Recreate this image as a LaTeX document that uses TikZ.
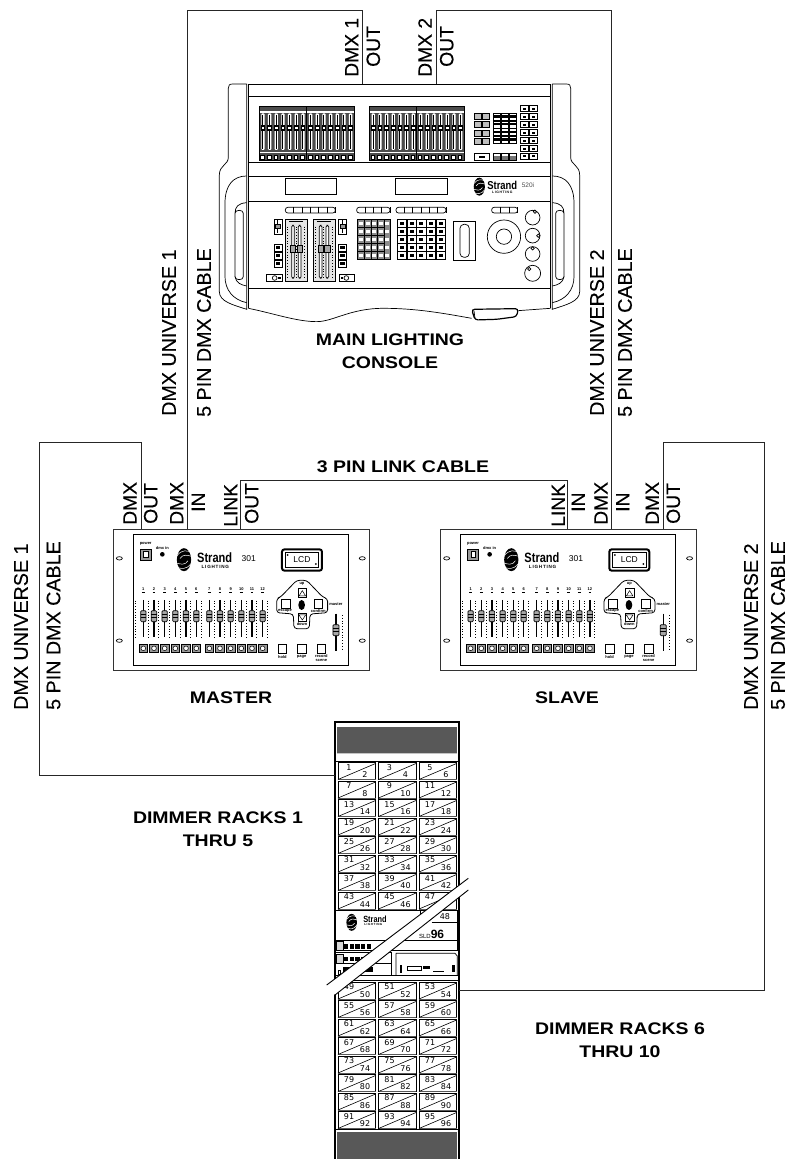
\documentclass[tikz,border=0pt]{standalone}
\usepackage{fontspec}
\setmainfont{Liberation Sans}
\newfontfamily\widefont[FakeStretch=1.16]{Liberation Sans}
\newfontfamily\cablefont[FakeBold=0.25]{Liberation Sans}
\newfontfamily\numfont{DejaVu Sans}
\usetikzlibrary{calc,patterns.meta}
\tikzset{
  cable/.style={line width=0.9pt, black!85},
  vlabel/.style={rotate=90, anchor=west, inner sep=0pt, font=\cablefont\fontsize{19.3}{20}\selectfont},
  longlabel/.style={vlabel, font=\cablefont\fontsize{19.7}{20}\selectfont},
  hlabel/.style={align=center, inner sep=0pt, font=\widefont\bfseries\fontsize{16.8}{22.5}\selectfont},
  dimnum/.style={inner sep=0pt, font=\numfont\fontsize{8}{8}\selectfont},
  tinytext/.style={inner sep=0pt, align=center, font=\bfseries\fontsize{4}{4.4}\selectfont},
  logotext/.style={inner sep=0pt, xscale=0.82, font=\bfseries\fontsize{#1}{#1}\selectfont},
  spaced/.style={inner sep=0pt, font=\bfseries\fontsize{#1}{#1}\selectfont},
  deskbox/.style={draw=black!80, line width=0.8pt, minimum width=256pt, minimum height=141pt, inner sep=0pt},
  keycap/.style={draw=black, line width=0.5pt, fill=white},
  darkkey/.style={draw=black, line width=0.5pt, fill=black!45},
  dotcol/.style={line width=1pt, dash pattern=on 0.8pt off 2pt},
  grille/.style={fill=black!55, postaction={pattern={Dots[distance=2pt,radius=0.65pt]}}},
  line/.style={line width=0.7pt}
}
% swirl of the maker's mark: x, y, unit
\newcommand{\strandswirl}[3]{%
  \begin{scope}[shift={(#1,#2)},x=#3pt,y=-#3pt]
    \fill (0,0) ellipse (0.62 and 1);
    \draw[white, line width=0.5pt] (-0.6,-0.35) .. controls (-0.2,-0.9) and (0.3,-0.8) .. (0.6,-0.65);
    \draw[white, line width=0.5pt] (-0.35,-0.1) .. controls (-0.1,-0.5) and (0.3,-0.4) .. (0.62,-0.3);
    \draw[white, line width=0.5pt] (0.6,0.35) .. controls (0.2,0.9) and (-0.3,0.8) .. (-0.6,0.65);
    \draw[white, line width=0.5pt] (0.35,0.1) .. controls (0.1,0.5) and (-0.3,0.4) .. (-0.62,0.3);
  \end{scope}}
% wing and handle of the console
\newcommand{\consolewing}[1]{%
  \begin{scope}[shift={(#1,70)},x=\wingx,y=-0.3333pt]
    \draw[line] (110,42) -- (68,42) .. controls (58,42) and (55,46) .. (55,55) -- (55,262) .. controls (55,285) and (28,285) .. (28,315) -- (28,665) .. controls (28,695) and (70,705) .. (110,718) -- (110,42);
    \draw[line] (110,318) .. controls (70,318) and (45,345) .. (45,400) -- (45,620) .. controls (45,660) and (70,690) .. (110,698);
    \draw[line] (110,398) .. controls (85,400) and (75,410) .. (75,430) -- (75,620) .. controls (75,632) and (100,632) .. (100,620) -- (100,430) .. controls (100,418) and (75,418) .. (75,430);
    \draw[line] (75,620) .. controls (78,640) and (95,645) .. (110,648);
  \end{scope}}
% one 301 desk
\newcommand{\drawdesk}[2]{%
  \begin{scope}[shift={(#1,520)},x=0.3333pt,y=-0.3333pt]
    \draw[line width=0.8pt] (100,44) rectangle (745,435);
    \foreach \hx/\hy in {58/115,58/362,787/115,787/362}
      \draw[line width=0.7pt] (\hx,\hy) ellipse (9 and 5);
    % power and lamp
    \node[tinytext] (#2-power) at (137,70) {power};
    \draw[line width=1pt, fill=black!40] (121,89) rectangle (154,120);
    \draw[fill=white, line width=0.5pt] (131,95) rectangle (144,113);
    \node[tinytext] (#2-dmxin) at (187,85) {dmx in};
    \fill (187,103) circle (7);
    % maker
    \strandswirl{252}{119}{11.5}
    \node[logotext=13.5] (#2-strand) at (344,113) {Strand};
    \node[spaced=4.6] (#2-lighting) at (346,140) {L\,I\,G\,H\,T\,I\,N\,G};
    \node[inner sep=0pt, font=\fontsize{8.5}{9}\selectfont] (#2-model) at (446,116) {301};
    % LCD
    \draw[line width=2pt, rounded corners=2.5pt] (546,88) rectangle (666,152);
    \draw[line width=0.7pt] (556,98) rectangle (656,142);
    \node[inner sep=0pt, font=\fontsize{8.5}{9}\selectfont] (#2-lcd) at (606,120) {LCD};
    \fill (563,105) circle (3); \fill (648,132) circle (3);
    % scene faders
    \foreach \fx [count=\n] in {130,162,194,226,258,289,328,360,392,424,456,488} {
      \draw[line width=1.2pt] (\fx,240) -- (\fx,352);
      \draw[dotcol] (\fx+15,242) -- (\fx+15,352);
      \draw[fill=black!35, line width=0.7pt, rounded corners=1pt] (\fx-8,272) rectangle (\fx+8,305);
      \draw[line width=0.5pt] (\fx-8,284) -- (\fx+8,284) (\fx-8,293) -- (\fx+8,293);
      \node[tinytext] (#2-num\n) at (\fx,206) {\n};
      \draw[line width=0.5pt] (\fx-4,218) -- (\fx+4,218);
      \draw[fill=black!40, line width=0.5pt] (\fx-13,372) rectangle (\fx+13,398);
      \draw[fill=white, line width=0.5pt] (\fx,385) circle (7);
    }
    \draw[dotcol] (106,242) -- (106,352);
    % cross pad
    \draw[line width=0.8pt, rounded corners=3pt] (590,181) -- (620,181) -- (668,231) -- (683,236) -- (683,278) -- (630,282) -- (628,326) -- (582,326) -- (580,282) -- (530,278) -- (530,236) -- (542,231) -- cycle;
    \draw[keycap] (594,206) rectangle (620,232);
    \draw[line width=0.5pt] (597,228) -- (607,212) -- (617,228) -- cycle;
    \draw[keycap] (594,280) rectangle (620,304);
    \draw[line width=0.5pt] (597,285) -- (607,300) -- (617,285) -- cycle;
    \draw[keycap] (543,238) rectangle (570,265);
    \draw[keycap] (643,238) rectangle (668,265);
    \fill (605,255) ellipse (10 and 15);
    \node[tinytext] (#2-up) at (606,192) {up};
    \node[tinytext] (#2-down) at (606,313) {down};
    \node[tinytext] (#2-escape) at (555,272) {escape};
    \node[tinytext] (#2-confirm) at (655,272) {confirm};
    % master fader
    \node[tinytext] (#2-masterfade) at (708,253) {master};
    \draw[line width=1.2pt] (708,281) -- (708,392);
    \draw[dotcol] (727,285) -- (727,390);
    \draw[fill=black!35, line width=0.7pt, rounded corners=1pt] (699,314) rectangle (717,347);
    \draw[line width=0.5pt] (699,326) -- (717,326) (699,335) -- (717,335);
    % bottom keys
    \draw[keycap] (535,374) rectangle (560,400);
    \draw[keycap] (593,374) rectangle (618,400);
    \draw[keycap] (652,374) rectangle (677,400);
    \node[tinytext] (#2-hold) at (547,410) {hold};
    \node[tinytext] (#2-page) at (605,410) {page};
    \node[tinytext] (#2-record) at (664,415) {record\\scene};
  \end{scope}}
\begin{document}
\begin{tikzpicture}[x=1pt,y=-1pt]
  \useasboundingbox (0,0) rectangle (787,1159);
  % Main lighting console
  \def\wingx{0.3333pt}
  \consolewing{210}
  \def\wingx{-0.3333pt}
  \consolewing{589}
  \begin{scope}[shift={(210,70)},x=0.3333pt,y=-0.3333pt]
    \draw[line] (115,715) -- (115,42) -- (1022,42) -- (1022,715);
    \foreach \ly in {80,278,318,395,655}
      \draw[line] (115,\ly) -- (1022,\ly);
    \draw[line] (225,325) rectangle (378,373);
    \draw[line] (555,325) rectangle (711,373);
    % fader wings
    \foreach \bx in {147,290,478,620} {
      \draw[line, fill=black!70] (\bx,110) rectangle (\bx+143,270);
      \fill[white] (\bx+2,122) rectangle (\bx+141,128);
      \fill[white] (\bx+2,246) rectangle (\bx+141,250);
      \foreach \f in {0,...,6} {
        \fill[white, rounded corners=1pt] (\bx+7+20*\f,130) rectangle (\bx+17+20*\f,240);
        \draw[line width=1pt] (\bx+12+20*\f,135) -- (\bx+12+20*\f,236);
        \fill (\bx+5+20*\f,165) rectangle (\bx+19+20*\f,182);
        \fill[white] (\bx+8+20*\f,171) rectangle (\bx+16+20*\f,176);
        \draw[keycap, line width=0.3pt] (\bx+4+20*\f,254) rectangle (\bx+15+20*\f,266);
      }
    }
    % palette keys
    \foreach \kx in {792,818} \foreach \ky in {130,155,180,205}
      \draw[darkkey, fill=black!25] (\kx,\ky) rectangle (\kx+21,\ky+18);
    \foreach \kx in {850,874,898} \foreach \ky in {130,153,176,199} {
      \draw[keycap] (\kx,\ky) rectangle (\kx+22,\ky+21);
      \fill (\kx+3,\ky+6) rectangle (\kx+19,\ky+13);
    }
    \draw[keycap] (792,250) rectangle (838,271);
    \fill (806,258) rectangle (826,263);
    \foreach \kx in {850,874,898} {
      \draw[darkkey, fill=black!55] (\kx,250) rectangle (\kx+22,271);
      \fill[white] (\kx+3,252) rectangle (\kx+19,257);
    }
    \foreach \kx in {932,958} \foreach \ky in {107,131,155,179,203,227,250} {
      \draw[keycap] (\kx,\ky) rectangle (\kx+24,\ky+18);
      \fill (\kx+7,\ky+6) rectangle (\kx+17,\ky+12);
    }
    % maker
    \strandswirl{808}{350}{9}
    \node[logotext=11.5] (consolestrand) at (877,346) {Strand};
    \node[spaced=3.4] (consolelighting) at (877,366) {L\,I\,G\,H\,T\,I\,N\,G};
    \node[inner sep=0pt, text=black!70, font=\fontsize{6.5}{7}\selectfont] (consolemodel) at (954,347) {520i};
    % pill key rows
    \foreach \px/\pw/\pk in {226/150/6,440/100/4,558/150/6,845/78/3} {
      \draw[line, rounded corners=2.5pt] (\px,412) rectangle (\px+\pw,429);
      \foreach \s in {1,...,\pk}
        \draw[line] ({\px+\s*\pw/\pk},412) -- ({\px+\s*\pw/\pk},429);
    }
    % playback faders
    \foreach \bx in {226,309} {
      \draw[line, fill=black!10] (\bx,447) rectangle (\bx+66,635);
      \draw[line width=1pt] (\bx+12,455) -- (\bx+54,455);
      \foreach \sx in {23,43} {
        \draw[line, fill=white, rounded corners=1.5pt] (\bx+\sx-4,466) rectangle (\bx+\sx+4,625);
        \draw[fill=black!35, line width=0.6pt] (\bx+\sx-8,525) rectangle (\bx+\sx+8,547);
      }
      \foreach \dx in {7,33,59} \draw[dotcol] (\bx+\dx,470) -- (\bx+\dx,622);
    }
    \foreach \sx in {192,385} {
      \draw[line] (\sx,447) rectangle (\sx+25,492);
      \draw[line width=1pt] (\sx+12,450) -- (\sx+12,489);
      \draw[fill=black!40, line width=0.4pt] (\sx+5,464) rectangle (\sx+20,475);
      \foreach \ky in {522,546,570} {
        \draw[keycap] (\sx,\ky) rectangle (\sx+25,\ky+22);
        \fill (\sx+6,\ky+7) rectangle (\sx+19,\ky+14);
      }
    }
    \draw[line] (170,614) rectangle (216,634);
    \draw[line] (194,624) circle (7);
    \fill (204,620) rectangle (213,628);
    \draw[line] (387,614) rectangle (433,634);
    \draw[line] (409,624) circle (7);
    \fill (392,620) rectangle (400,628);
    % keypads
    \foreach \kx in {443,463,483,503} \foreach \ky in {448,472,496,520,544} {
      \draw[darkkey] (\kx,\ky) rectangle (\kx+20,\ky+24);
      \fill[white] (\kx+4,\ky+8) rectangle (\kx+16,\ky+16);
    }
    \draw[darkkey] (523,448) rectangle (540,568);
    \foreach \ky in {456,480,504,528,552}
      \fill[white] (526,\ky) rectangle (537,\ky+8);
    \foreach \kx in {562,591,620,649,678} \foreach \ky in {448,472,496,520,544} {
      \draw[keycap] (\kx,\ky) rectangle (\kx+28,\ky+24);
      \fill (\kx+8,\ky+8) rectangle (\kx+20,\ky+16);
    }
    % grand master
    \draw[line] (731,455) rectangle (797,572);
    \draw[line, rounded corners=4pt] (750,463) rectangle (778,562);
    % trackball and encoders
    \draw[line] (882,500) circle (50);
    \draw[line] (882,500) circle (23);
    \foreach \ex/\ey/\er/\ox/\oy in {968/443/22/975/425,968/497/22/985/497,968/552/22/968/535,968/610/24/958/597} {
      \draw[line] (\ex,\ey) circle (\er);
      \draw[line] (\ox,\oy) circle (5);
    }
    % front edge and palm pull
    \draw[line] (115,715) .. controls (190,730) and (260,755) .. (320,755) .. controls (370,755) and (420,715) .. (520,715) .. controls (620,715) and (700,730) .. (785,745);
    \draw[line] (925,722) -- (1022,715);
    \draw[line width=1.2pt, fill=white, rounded corners=3pt] (785,718) -- (925,716) -- (920,740) -- (860,748) -- (795,750) -- cycle;
    \draw[line] (792,722) -- (795,745);
  \end{scope}
  \coordinate (console1) at (362.7,84);
  \coordinate (console2) at (436.7,84);
  % Desks
  \node[deskbox] (master) at (241,599.5) {};
  \node[deskbox] (slave) at (568,599.5) {};
  \drawdesk{100}{mas}
  \drawdesk{427.3}{sla}
  \node[hlabel] (masterlabel) at (231,698) {MASTER};
  \node[hlabel] (slavelabel) at (567,698) {SLAVE};
  % Ports
  \coordinate (masterout) at (141,529);
  \coordinate (masterin) at (187,529);
  \coordinate (masterlink) at (240.5,529);
  \coordinate (slavelink) at (567,529);
  \coordinate (slavein) at (611.7,529);
  \coordinate (slaveout) at (663,529);
  % Dimmer rack
  \draw[line width=1.2pt] (335,1159) -- (335,722) -- (459,722) -- (459,1159);
  \draw[line width=1pt] (335,761) -- (459,761);
  \draw[line width=1pt] (335,1129) -- (459,1129);
  \path[grille] (337,727) rectangle (457,753);
  \path[grille] (337,1132) rectangle (457,1159);
  \coordinate (rackleft) at (335,775);
  \coordinate (rackright) at (459,990);
  \foreach \i in {0,...,15} \foreach \j in {0,1,2} {
    \pgfmathsetmacro{\cx}{338+40.5*\j}
    \pgfmathsetmacro{\cy}{\i<8 ? 762.5+18.5*\i : 982+18.5*(\i-8)}
    \pgfmathtruncatemacro{\oddn}{6*\i+2*\j+1}
    \pgfmathtruncatemacro{\evenn}{6*\i+2*\j+2}
    \draw[line width=0.8pt] (\cx,\cy) rectangle (\cx+37.5,\cy+17);
    \draw[line width=1.4pt, black!65] (\cx,\cy+17.2) -- (\cx+37.5,\cy+17.2);
    \draw[line width=0.6pt] (\cx,\cy+17) -- (\cx+37.5,\cy+1);
    \node[dimnum] (dim\oddn) at (\cx+11,\cy+5) {\oddn};
    \ifnum\evenn=48 \else
    \node[dimnum] (dim\evenn) at (\cx+27,\cy+12.5) {\evenn};
    \fi
  }
  % Rack electronics
  \begin{scope}[shift={(320,870)},x=0.3333pt,y=-0.3333pt]
    \draw[line, fill=white] (47,122) rectangle (412,240);
    \draw[line, fill=white] (300,122) rectangle (412,157);
    \node[dimnum] (dim48) at (375,140) {48};
    \fill[white] (300,154) rectangle (410,240);
    \draw[line] (335,157) -- (412,157);
    \node[inner sep=0pt] (racksld) at (335,192) {\fontsize{6}{7}\selectfont SLD\fontsize{12}{13}\selectfont\bfseries 96};
    \node[logotext=9] (rackstrand) at (165,147) {Strand};
    \node[spaced=3] (racklighting) at (160,162) {L\,I\,G\,H\,T\,I\,N\,G};
    \draw[line] (47,212) -- (412,212) (47,212) -- (47,330);
    \foreach \ry in {218,256} {
      \draw[line, fill=black!15] (50,\ry-4) rectangle (70,\ry+24);
      \foreach \s in {0,...,4} \fill (72+17*\s,\ry+4) rectangle (85+17*\s,\ry+18);
    }
    \draw[line] (45,247) -- (215,247) (45,281) -- (215,281) (215,247) -- (215,315);
    \draw[line] (228,250) -- (405,250) -- (412,258) -- (412,315) (228,250) -- (228,315);
    \draw[line, fill=white] (262,288) rectangle (305,300);
    \fill (310,288) rectangle (330,298);
    \fill (338,302) rectangle (372,306);
    \fill (395,285) rectangle (405,305);
    \fill (240,285) rectangle (246,310);
    \fill (70,290) rectangle (160,305);
    \draw[line] (56,300) rectangle (62,312);
    \draw[line width=1pt] (45,315) -- (418,315);
    \draw[line width=1pt] (45,331) -- (418,331);
    \strandswirl{95}{157}{8.5}
  \end{scope}
  % Cuts through the rack
  \fill[white] (326.7,985) -- (468.3,878.3) -- (468.3,890) -- (335,995) -- cycle;
  \coordinate (cuta) at (326.7,985);
  \coordinate (cutb) at (468.3,878.3);
  \coordinate (cutc) at (335,995);
  \coordinate (cutd) at (468.3,890);
  \draw[line width=0.9pt] (cuta) -- (cutb);
  \draw[line width=0.9pt] (cutc) -- (cutd);
  % Cables
  \draw[cable] (console1) -- (362.7,10) -- (187,10) -- (masterin);
  \draw[cable] (console2) -- (436.7,10) -- (611.7,10) -- (slavein);
  \draw[cable] (masterlink) -- (240.5,480) -- (567,480) -- (slavelink);
  \draw[cable] (masterout) -- (141,442) -- (39,442) -- (39,775) -- (rackleft);
  \draw[cable] (slaveout) -- (663,442) -- (764.7,442) -- (764.7,990) -- (rackright);
  % Labels on the cables
  \node[vlabel] (dmxa) at (351.7,77) {DMX 1};
  \node[vlabel] (outa) at (373.3,67) {OUT};
  \node[vlabel] (dmxb) at (425,77) {DMX 2};
  \node[vlabel] (outb) at (446.7,67) {OUT};
  \node[longlabel] (unia) at (169,416) {DMX UNIVERSE 1};
  \node[longlabel] (cabla) at (204,417) {5 PIN DMX CABLE};
  \node[longlabel] (unib) at (597,416) {DMX UNIVERSE 2};
  \node[longlabel] (cablb) at (625,417) {5 PIN DMX CABLE};
  \node[longlabel] (unic) at (21,710) {DMX UNIVERSE 1};
  \node[longlabel] (cablc) at (53.5,710) {5 PIN DMX CABLE};
  \node[longlabel] (unid) at (751,710) {DMX UNIVERSE 2};
  \node[longlabel] (cabld) at (778,710) {5 PIN DMX CABLE};
  \node[vlabel] (mdmxout) at (130,525) {DMX};
  \node[vlabel] (moutport) at (150.7,524) {OUT};
  \node[vlabel] (mdmxin) at (176.7,525) {DMX};
  \node[vlabel] (minport) at (198.3,512) {IN};
  \node[vlabel] (mlink) at (230.7,527) {LINK};
  \node[vlabel] (mlinkout) at (251.7,524) {OUT};
  \node[vlabel] (slink) at (558.3,527) {LINK};
  \node[vlabel] (slinkin) at (578.3,512) {IN};
  \node[vlabel] (sdmxin) at (601,525) {DMX};
  \node[vlabel] (sinport) at (622.7,512) {IN};
  \node[vlabel] (sdmxout) at (652.3,525) {DMX};
  \node[vlabel] (soutport) at (673.3,524) {OUT};
  \node[hlabel] (linklabel) at (403,467) {3 PIN LINK CABLE};
  \node[hlabel] (consolelabel) at (390,351) {MAIN LIGHTING\\CONSOLE};
  \node[hlabel] (racksa) at (218,829) {DIMMER RACKS 1\\THRU 5};
  \node[hlabel] (racksb) at (620,1040) {DIMMER RACKS 6\\THRU 10};
\end{tikzpicture}
\end{document}
